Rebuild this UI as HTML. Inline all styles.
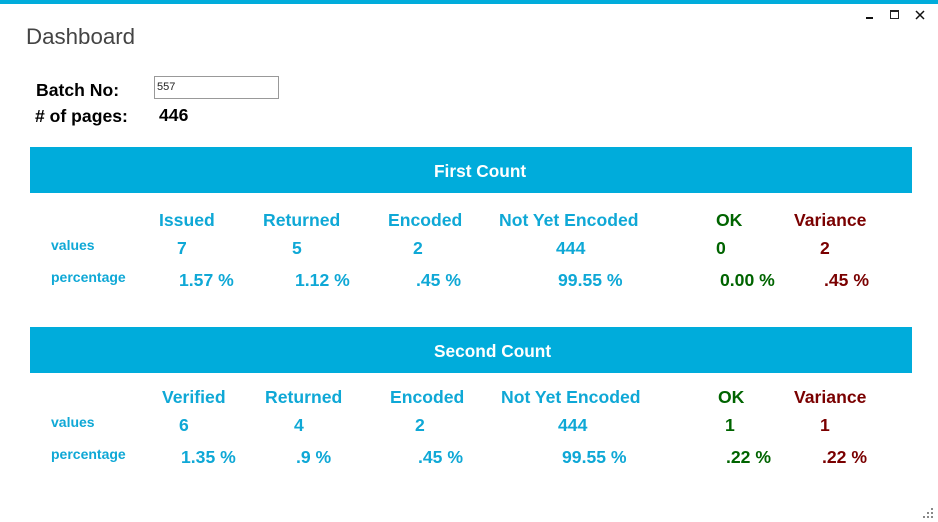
<!DOCTYPE html>
<html>
<head>
<meta charset="utf-8">
<style>
html,body{margin:0;padding:0;background:#fff}
#app{position:relative;width:938px;height:522px;overflow:hidden;background:#fff;font-family:"Liberation Sans",sans-serif}
.t{position:absolute;white-space:nowrap;line-height:20px;height:20px;font-weight:bold}
.h{font-size:17.6px;color:#0fa8d6}
.v{font-size:17.6px;color:#0fa8d6}
.l{font-size:14px;color:#0fa8d6}
.g{color:#006400}
.m{color:#7a0000}
.k{font-size:17.6px;color:#000}
.bar{position:absolute;left:30px;width:882px;height:46px;background:#00acdb;color:#fff;font-weight:bold;font-size:17.3px;line-height:46px}
.bar span{position:absolute;white-space:nowrap;top:1px}
</style>
</head>
<body>
<div id="app">
<div style="position:absolute;left:0;top:0;width:938px;height:4px;background:#00acdb"></div>
<div style="position:absolute;left:866px;top:17px;width:7px;height:2px;background:#111"></div>
<div style="position:absolute;left:890px;top:10px;width:7px;height:6px;border:1px solid #222;border-top-width:2px"></div>
<svg style="position:absolute;left:915px;top:10px" width="10" height="10"><path d="M1 1L9 9M9 1L1 9" stroke="#111" stroke-width="1.5"/></svg>
<div style="position:absolute;left:26px;top:22px;font-size:22.3px;line-height:30px;color:#444;white-space:nowrap">Dashboard</div>

<div class="t k" style="left:36px;top:80px">Batch No:</div>
<div style="position:absolute;left:154px;top:76px;width:123px;height:21px;border:1px solid #999;font-size:11px;line-height:20px;text-indent:2px;color:#222">557</div>
<div class="t k" style="left:35px;top:106px"># of pages:</div>
<div class="t k" style="left:159px;top:105px">446</div>

<div class="bar" style="top:147px"><span style="left:404px">First Count</span></div>
<div class="t h" style="left:159px;top:210px">Issued</div>
<div class="t h" style="left:263px;top:210px">Returned</div>
<div class="t h" style="left:388px;top:210px">Encoded</div>
<div class="t h" style="left:499px;top:210px">Not Yet Encoded</div>
<div class="t h g" style="left:716px;top:210px">OK</div>
<div class="t h m" style="left:794px;top:210px">Variance</div>
<div class="t l" style="left:51px;top:235px">values</div>
<div class="t v" style="left:177px;top:238px">7</div>
<div class="t v" style="left:292px;top:238px">5</div>
<div class="t v" style="left:413px;top:238px">2</div>
<div class="t v" style="left:556px;top:238px">444</div>
<div class="t v g" style="left:716px;top:238px">0</div>
<div class="t v m" style="left:820px;top:238px">2</div>
<div class="t l" style="left:51px;top:267px">percentage</div>
<div class="t v" style="left:179px;top:270px">1.57 %</div>
<div class="t v" style="left:295px;top:270px">1.12 %</div>
<div class="t v" style="left:416px;top:270px">.45 %</div>
<div class="t v" style="left:558px;top:270px">99.55 %</div>
<div class="t v g" style="left:720px;top:270px">0.00 %</div>
<div class="t v m" style="left:824px;top:270px">.45 %</div>

<div class="bar" style="top:327px"><span style="left:404px">Second Count</span></div>
<div class="t h" style="left:162px;top:387px">Verified</div>
<div class="t h" style="left:265px;top:387px">Returned</div>
<div class="t h" style="left:390px;top:387px">Encoded</div>
<div class="t h" style="left:501px;top:387px">Not Yet Encoded</div>
<div class="t h g" style="left:718px;top:387px">OK</div>
<div class="t h m" style="left:794px;top:387px">Variance</div>
<div class="t l" style="left:51px;top:412px">values</div>
<div class="t v" style="left:179px;top:415px">6</div>
<div class="t v" style="left:294px;top:415px">4</div>
<div class="t v" style="left:415px;top:415px">2</div>
<div class="t v" style="left:558px;top:415px">444</div>
<div class="t v g" style="left:725px;top:415px">1</div>
<div class="t v m" style="left:820px;top:415px">1</div>
<div class="t l" style="left:51px;top:444px">percentage</div>
<div class="t v" style="left:181px;top:447px">1.35 %</div>
<div class="t v" style="left:296px;top:447px">.9 %</div>
<div class="t v" style="left:418px;top:447px">.45 %</div>
<div class="t v" style="left:562px;top:447px">99.55 %</div>
<div class="t v g" style="left:726px;top:447px">.22 %</div>
<div class="t v m" style="left:822px;top:447px">.22 %</div>

<svg style="position:absolute;left:919px;top:504px" width="16" height="16"><g fill="#888"><rect x="12" y="4" width="2" height="2"/><rect x="8" y="8" width="2" height="2"/><rect x="12" y="8" width="2" height="2"/><rect x="4" y="12" width="2" height="2"/><rect x="8" y="12" width="2" height="2"/><rect x="12" y="12" width="2" height="2"/></g></svg>
</div>
</body>
</html>
